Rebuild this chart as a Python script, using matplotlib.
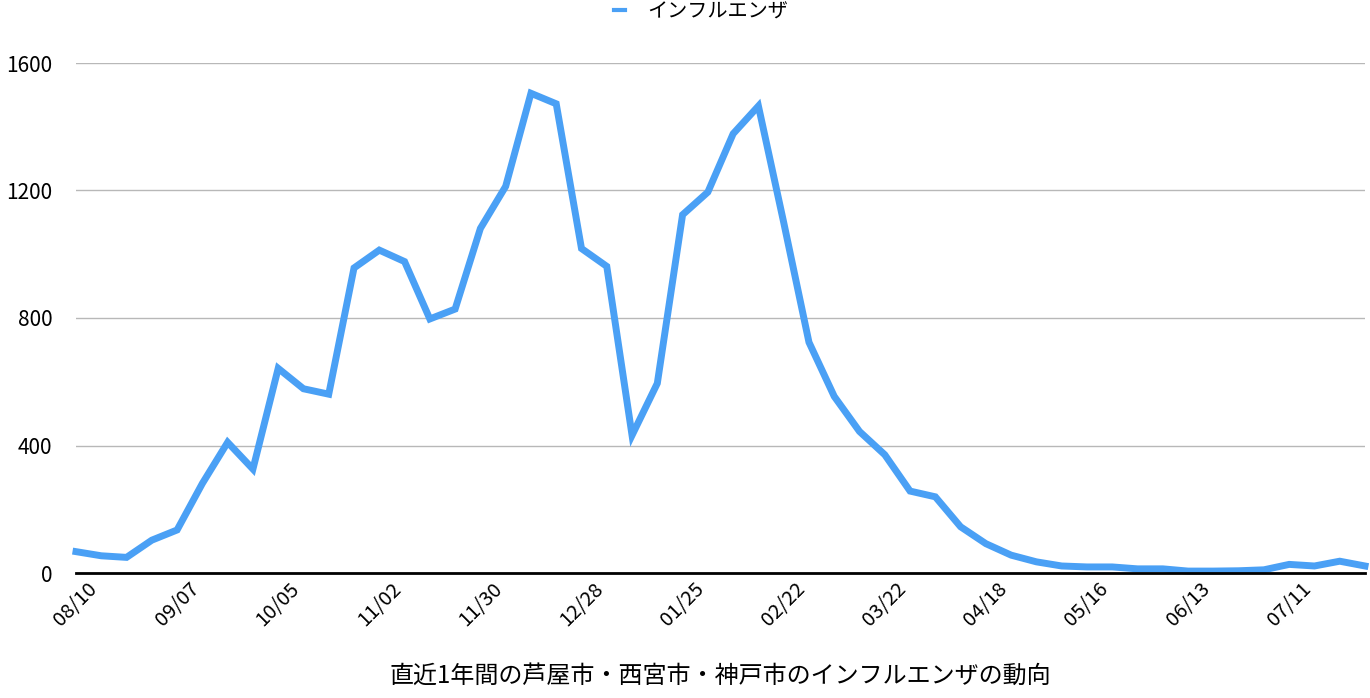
import numpy as np
from matplotlib import pyplot as plt

plt.rcParams['font.family'] = ['Noto Sans CJK JP', 'DejaVu Sans']

# weekly counts, 52 weeks starting 08/10
values = [67, 54, 49, 103, 135, 281, 410, 326, 642, 578,
          561, 957, 1013, 977, 797, 828, 1081, 1213, 1505, 1472,
          1018, 962, 432, 595, 1124, 1195, 1378, 1465, 1100, 724,
          554, 444, 371, 257, 239, 145, 92, 56, 35, 22,
          19, 19, 13, 13, 6, 6, 7, 10, 27, 22,
          37, 22]
tick_labels = ['08/10', '09/07', '10/05', '11/02', '11/30', '12/28', '01/25',
               '02/22', '03/22', '04/18', '05/16', '06/13', '07/11']
series_name = 'インフルエンザ'
title = '直近1年間の芦屋市・西宮市・神戸市のインフルエンザの動向'

x = np.arange(len(values))

fig = plt.figure(figsize=(13.7, 6.98), dpi=100)
ax = fig.add_axes([76/1370, 125/698, 1289/1370, 510/698])

ax.plot(x, values, color='#4aa0f5', linewidth=5, solid_joinstyle='miter',
        label=series_name, clip_on=False)

ax.set_xlim(0, len(values) - 1)
ax.set_ylim(0, 1600)
ax.set_yticks([0, 400, 800, 1200, 1600])
ax.set_xticks(x[::4])
ax.set_xticklabels(tick_labels, rotation=45, ha='center', fontsize=14.5)
ax.tick_params(axis='y', labelsize=15, length=0, pad=17)
ax.tick_params(axis='x', length=0, pad=4)

ax.grid(axis='y', color='#b8b8b8', linewidth=1)
ax.set_axisbelow(True)
for s in ['top', 'right', 'left']:
    ax.spines[s].set_visible(False)
ax.spines['bottom'].set_color('black')
ax.spines['bottom'].set_linewidth(2)
ax.spines['bottom'].set_zorder(3)

fig.text(720/1370, 1 - 676/698, title, ha='center', va='center', fontsize=17.3)
leg = fig.legend(loc='upper center', bbox_to_anchor=(701/1370, 1.024), frameon=False,
                 fontsize=14.5, handlelength=0.55, handletextpad=1.1)
leg.get_lines()[0].set_linewidth(3)

fig.savefig('out.png', dpi=100)
